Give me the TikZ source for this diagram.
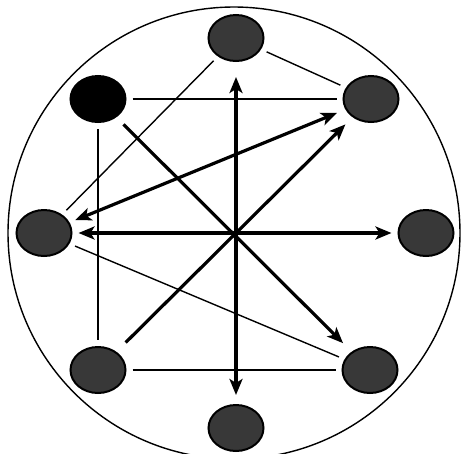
\documentclass[tikz,border=0pt]{standalone}
\usepackage{xcolor}
\usepackage{tikz}
\usetikzlibrary{arrows.meta,shapes.geometric}
\definecolor{ink}{HTML}{000000}
\definecolor{stipple}{HTML}{383838}
\tikzset{
  member/.style={draw=ink, ellipse, fill=stipple, line width=2pt, minimum width=55pt, minimum height=46pt, inner sep=0pt, outer sep=7pt},
  leader/.style={member, fill=ink},
  ring/.style={draw=ink, circle, line width=1.4pt, minimum size=452pt, inner sep=0pt},
  link/.style={draw=ink, line width=1.4pt},
  tie/.style={draw=ink, line width=2.2pt},
  arrow/.style={-{Stealth[length=16pt,width=13pt,inset=4pt]}, line width=3.2pt, draw=ink},
  dblarrow/.style={{Stealth[length=16pt,width=13pt,inset=4pt]}-{Stealth[length=16pt,width=13pt,inset=4pt]}, line width=3.2pt, draw=ink}
}

\begin{document}
\begin{tikzpicture}[x=1pt,y=-1pt]
  \useasboundingbox (0,0) rectangle (461,453);
  \clip (0,0) rectangle (461,453);
  \node[ring] (group) at (234,233) {};

  \node[member] (top) at (236,38) {};
  \node[leader] (lead) at (98,99) {};
  \node[member] (upright) at (371,99) {};
  \node[member] (left) at (44,233) {};
  \node[member] (right) at (426,233) {};
  \node[member] (lowleft) at (98,370) {};
  \node[member] (lowright) at (370,370) {};
  \node[member] (bottom) at (236,428) {};

  \draw[link] (top) -- (left);
  \draw[link] (top) -- (upright);
  \draw[link] (lead) -- (upright);
  \draw[link] (left) -- (lowright);
  \draw[tie] (lead) -- (lowleft);
  \draw[tie] (lowleft) -- (lowright);

  \draw[dblarrow, shorten <=9pt, shorten >=3pt] (top) -- (bottom);
  \draw[dblarrow] (left) -- (right);
  \draw[dblarrow, shorten >=3pt] (left) -- (upright);
  \draw[arrow, shorten <=4pt, shorten >=6pt] (lead) -- (lowright);
  \draw[arrow, shorten <=7pt, shorten >=4pt] (lowleft) -- (upright);
\end{tikzpicture}
\end{document}
